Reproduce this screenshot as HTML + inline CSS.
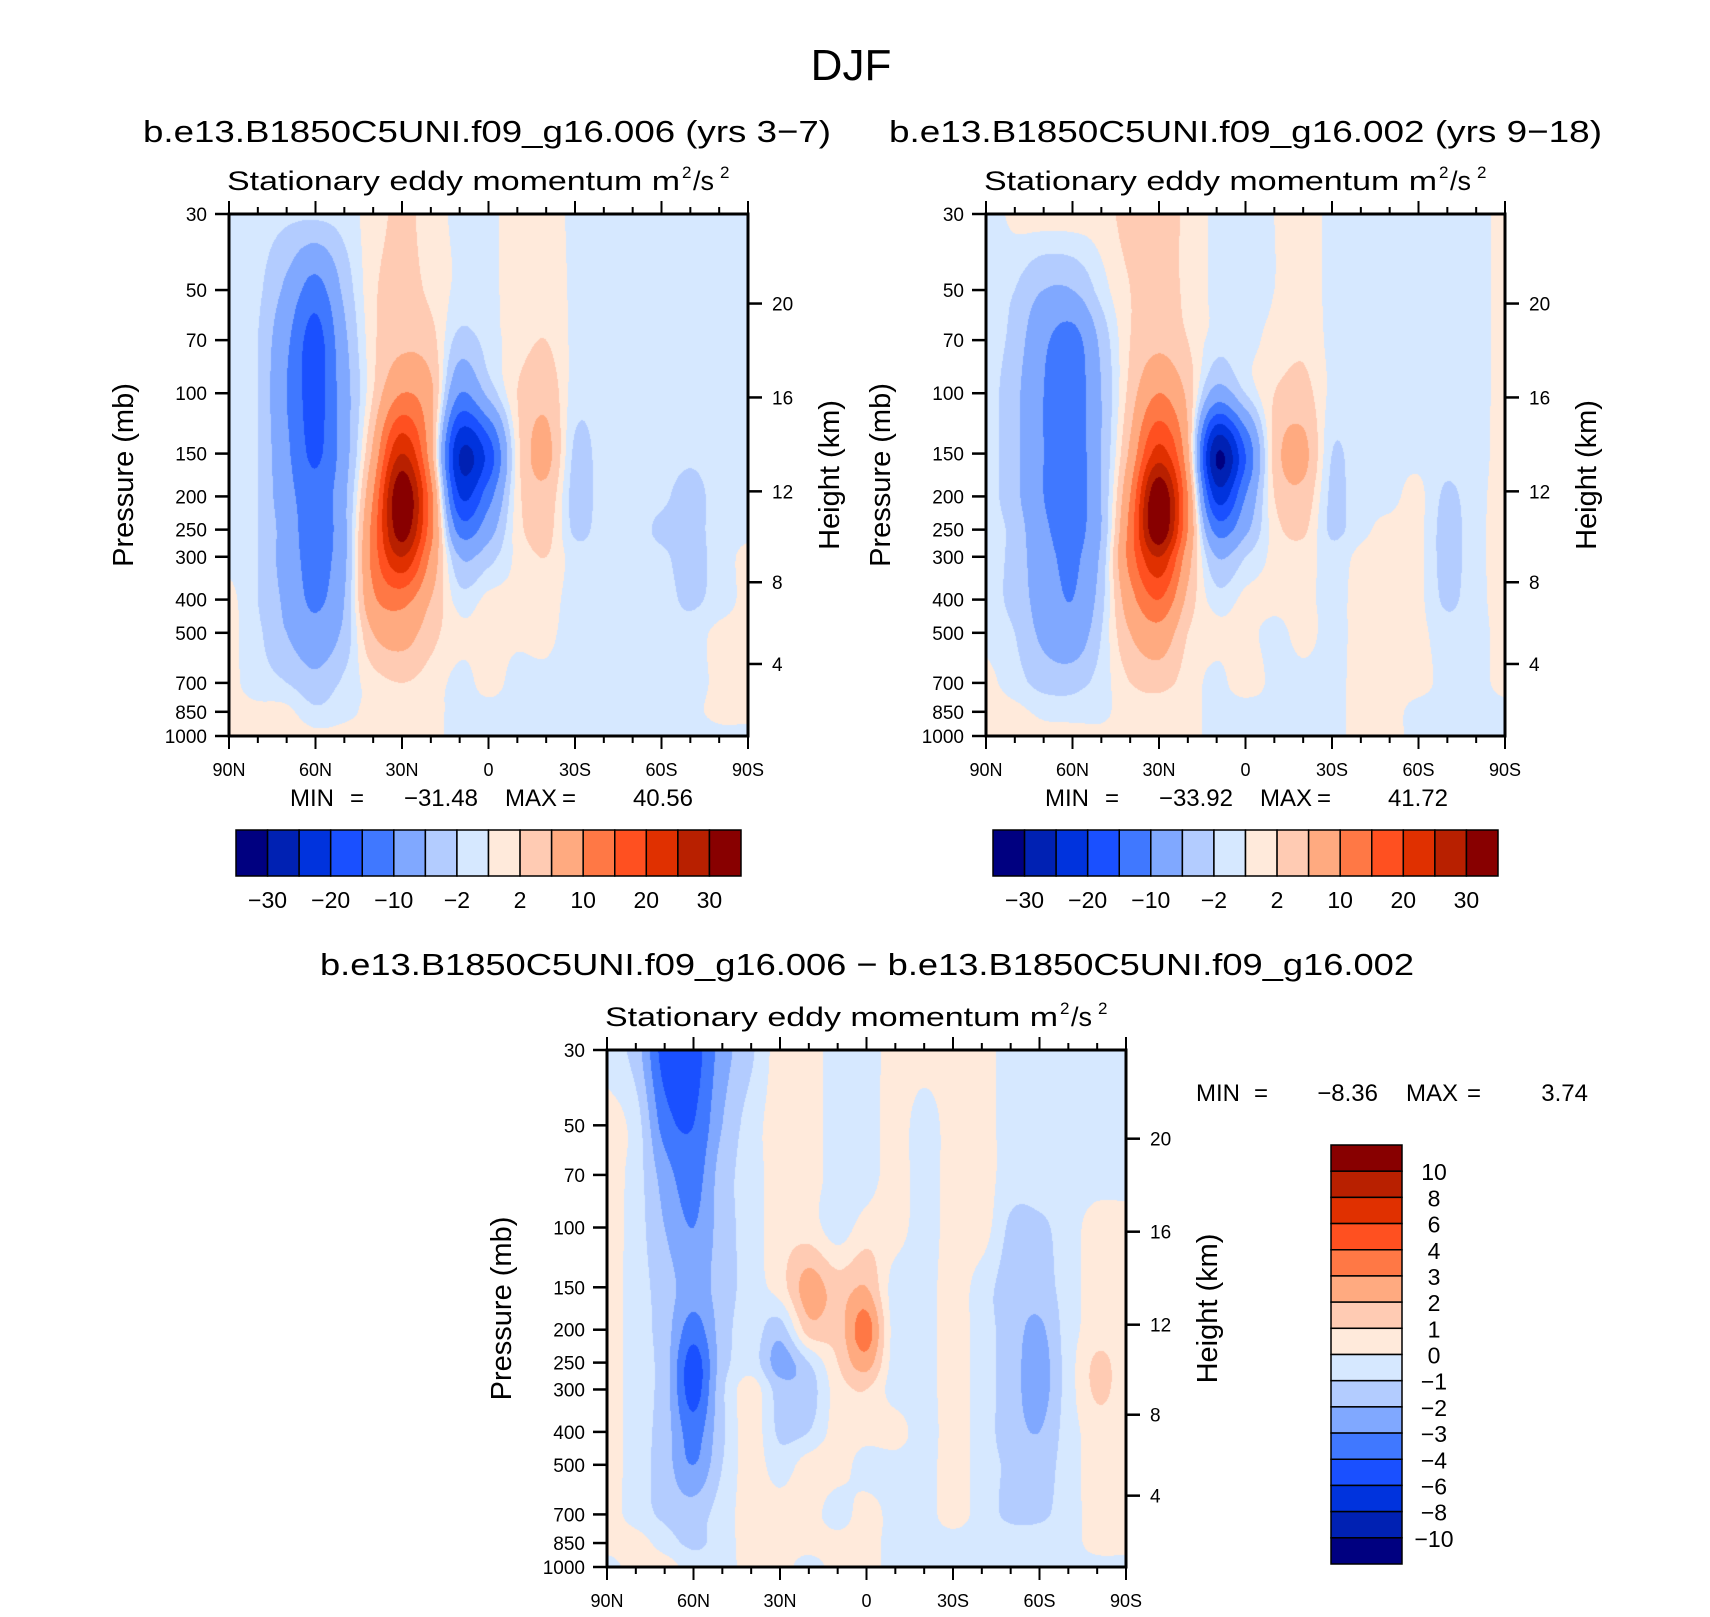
<!DOCTYPE html>
<html>
<head>
<meta charset="utf-8">
<style>
  html,body{margin:0;padding:0;background:#fff;}
  #wrap{position:relative;width:1710px;height:1617px;overflow:hidden;background:#fff;font-family:"Liberation Sans",sans-serif;}
  canvas{position:absolute;}
  svg{position:absolute;left:0;top:0;}
</style>
</head>
<body>
<div id="wrap">
  <canvas id="c1" style="left:229px;top:214px" width="519" height="522"></canvas>
  <canvas id="c2" style="left:986px;top:214px" width="519" height="522"></canvas>
  <canvas id="c3" style="left:607px;top:1050px" width="519" height="517"></canvas>
  <svg id="svg" width="1710" height="1617" xmlns="http://www.w3.org/2000/svg"></svg>
</div>
<script>
// ---------- data ----------
const levels = [30,50,70,100,150,200,250,300,400,500,700,850,1000];
const lats = [90,80,70,60,50,40,30,20,10,0,-10,-20,-30,-40,-50,-60,-70,-80,-90];

// Panel 1 (006): one column per latitude, values top (30 mb) to bottom (1000 mb)
const panel1 = [
  [-1,-1,-1,-1,-1,-1,-1,-0.5,0.5,0.5,0.5,0.5,0.5],
  [-1,-1.5,-2,-2,-2,-2,-2,-2,-2,-1.5,-1,0.5,0.5],
  [-1.5,-6,-9,-10,-9,-8,-7,-7,-6,-5,-2,0.5,1],
  [-1.5,-12,-17,-17,-16,-13,-13,-12,-11,-8,-4,-1.5,0.5],
  [-1,-4,-6,-7,-7,-6,-6,-6,-5,-4,-1.5,-0.5,0.5],
  [1,1.5,1.5,2,6,10,12,12,9,5,1,0.5,0.5],
  [2.5,3,4,10,25,35,33,25,12,7,2,1,1],
  [1,1.5,3,6,7,12,12,9,5,3,1,0.5,0.5],
  [-0.5,-0.5,-3,-10,-25,-20,-12,-5,-1,0.5,-0.5,-0.5,-0.5],
  [-0.5,-0.5,-1,-4,-18,-12,-7,-3,0.5,0.5,0.5,-0.5,-0.5],
  [1,1,1,2,1,1,1,0.5,0.5,0.3,-0.5,-0.5,-0.5],
  [1,1.5,2,4,6,4,3,2,1,0.5,-0.5,-1,-0.5],
  [-0.5,-0.5,-0.5,-1,-2.5,-3,-2.5,-1,-1,-1,-1,-1,-1],
  [-1,-1,-1,-1,-1,-1,-1,-1,-1,-1,-1,-1,-1],
  [-1,-1,-1,-1,-1,-1,-1,-1,-1,-1,-1,-1,-1],
  [-0.5,-1,-1,-1,-1,-1.5,-2.5,-1.5,-1,-1,-1,-1,-1],
  [-0.5,-1,-1,-1,-1.5,-3,-3,-3,-2.5,-1,-1,-0.5,-1],
  [-0.5,-1,-1,-1,-1,-1,-1,-1,-1,0.5,0.5,0.5,-0.5],
  [-0.5,-1,-1,-1,-1,-1,-0.5,0.5,0.5,0.5,0.5,0.5,-0.5]
];
// Panel 2 (002)
const panel2 = [
  [-1,-1,-1,-1,-1,-1,-1,-1,-1,-0.5,0.5,0.5,0.5],
  [0.5,-2,-3,-4,-4,-4,-3,-3,-3,-2,-1,0.5,0.5],
  [1,-5,-9,-10,-10,-10,-9,-8,-7,-6,-3,-0.5,0.5],
  [1,-5,-12,-13,-13,-13,-12,-11,-10,-8,-3,-1,1],
  [1,-1,-4,-5,-5,-5,-5,-4,-3,-2,-1,-0.5,0.5],
  [3,2,2,3,6,10,12,12,8,5,2,1,1],
  [3,3,4,10,22,35,35,25,15,8,3,1,1],
  [1.5,1.5,2,4,6,10,10,7,4,2,1,0.5,0.5],
  [-0.5,-0.5,-1,-7,-30,-22,-12,-5,-1,0.5,-0.5,-0.5,-0.5],
  [-0.5,-0.5,-0.5,-2,-15,-10,-6,-2,0.5,0.5,1,-1,-1],
  [0,0,0.5,2,3,2,1,0.5,0.5,-0.5,-0.5,-0.5,-0.5],
  [1,1,1.5,3,6,4,2.5,1,0.5,0.5,-0.5,-0.5,-0.5],
  [-0.5,-0.5,-0.5,-0.5,-2,-2.5,-2.5,-1,-0.5,-0.5,-0.5,-0.5,-0.5],
  [-0.5,-0.5,-0.5,-0.5,-0.5,-0.5,-0.5,0.5,0.5,0.5,0.5,0.5,0.5],
  [-0.5,-0.5,-0.5,-0.5,-0.5,-0.5,0.5,0.5,0.5,0.5,0.5,0.5,0.5],
  [-0.5,-0.5,-0.5,-0.5,-0.5,0.5,0.5,0.5,0.5,0.5,0.5,-0.5,-0.5],
  [-0.5,-0.5,-0.5,-0.5,-1,-2.5,-3,-3,-2.5,-1,-0.5,-0.5,-0.5],
  [-0.5,-0.5,-0.5,-0.5,-0.5,-0.5,-0.5,-0.5,-0.5,-0.5,-0.5,-0.5,-0.5],
  [0.5,0.5,0.5,0.5,0.5,0.5,0.5,0.5,0.5,0.5,0.5,-0.5,-0.5]
];
// Panel 3 (difference 006 - 002)
const panel3 = [
  [-0.5,0.5,0.5,0.5,0.5,0.5,0.5,0.5,0.5,0.5,0.5,0.5,-0.5],
  [-1.5,-0.5,-0.5,-0.5,-0.5,-0.5,-0.5,-0.5,-0.5,-0.5,-0.5,0.5,0.5],
  [-4.5,-3.5,-2.5,-2,-1.5,-1.5,-1.5,-1.5,-1.5,-1.5,-1.2,-0.5,0.5],
  [-4.5,-4,-3.5,-3,-2.5,-3.5,-4.5,-4.5,-3.5,-3,-1.5,-1.2,-0.5],
  [-2.5,-2,-1.5,-1.5,-1.5,-1.5,-1.5,-1.2,-1.2,-1,-0.5,-0.5,-0.5],
  [-1.2,-0.5,-0.5,-0.5,-0.5,-0.5,-0.5,0.5,0.5,0.5,0.5,0.5,0.5],
  [0.5,0.5,0.5,0.5,0.5,-1.5,-2.5,-1.5,-1.2,-0.5,0.5,0.5,0.5],
  [0.5,0.5,0.5,0.5,2.5,1.5,-1,-1.5,-1,0.5,0.5,0.5,-0.5],
  [-0.5,-0.5,-0.5,-0.5,1.5,1.5,1,0.5,0.5,0.5,-0.5,0.5,0.5],
  [-0.5,-0.5,-0.5,0.5,2,3.5,2.5,1,0.5,-0.5,0.5,0.5,0.5],
  [0.5,0.5,0.5,0.5,-0.5,-0.5,-0.5,-0.5,0.5,-0.5,-0.5,-0.5,-0.5],
  [0.5,-0.5,-0.5,-0.5,-0.5,-0.5,-0.5,-0.5,-0.5,-0.5,-0.5,-0.5,-0.5],
  [0.5,0.5,0.5,0.5,0.5,0.5,0.5,0.5,0.5,0.5,0.5,-0.5,-0.5],
  [0.5,0.5,0.5,0.5,-0.5,-0.5,-0.5,-0.5,-0.5,-0.5,-0.5,-0.5,-0.5],
  [-0.5,-0.5,-0.5,-1.2,-1.5,-1.5,-1.5,-1.5,-1.5,-1.2,-1.2,-0.5,-0.5],
  [-0.5,-0.5,-0.5,-1.2,-1.5,-2.2,-2.5,-2.5,-2,-1.5,-1.2,-0.5,-0.5],
  [-0.5,-0.5,-0.5,-0.5,-0.5,-0.5,-0.5,-0.5,-0.5,-0.5,-0.5,-0.5,-0.5],
  [-0.5,-0.5,-0.5,0.5,0.5,0.5,1.2,1.2,0.5,0.5,0.5,0.5,-0.5],
  [-0.5,-0.5,-0.5,0.5,0.5,0.5,0.5,0.5,0.5,0.5,0.5,0.5,-0.5]
];
const contourLevelsAbs = [-30,-25,-20,-15,-10,-5,-2,0,2,5,10,15,20,25,30];
const contourLevelsDiff = [-10,-8,-6,-4,-3,-2,-1,0,1,2,3,4,6,8,10];
const colors = ["#000080","#0021b3","#0033dd","#1a50ff","#4078ff","#80a8ff","#b3ccff","#d6e8ff",
                "#ffeadb","#ffcbb3","#ffaa80","#ff7845","#ff5020","#e03000","#b82000","#880000"];
const absBarLabels = ["-30","-20","-10","-2","2","10","20","30"];
const diffBarLabels = ["10","8","6","4","3","2","1","0","-1","-2","-3","-4","-6","-8","-10"];
const pressureTicks = [30,50,70,100,150,200,250,300,400,500,700,850,1000];
const heightTicks = [4,8,12,16,20];
const latTicks = [90,60,30,0,-30,-60,-90];
const latTickLabels = ["90N","60N","30N","0","30S","60S","90S"];
const stats1 = ["-31.48","40.56"], stats2 = ["-33.92","41.72"], stats3 = ["-8.36","3.74"];

// ---------- helpers ----------
const LNR = Math.log(1000/30);
function pFrac(p){ return Math.log(p/30)/LNR; }
function zToP(zkm){ const z=zkm*1000; if(z<=11000) return 1013.25*Math.pow(1-2.25577e-5*z,5.25588); return 226.32*Math.exp(-(z-11000)/6341.6); }
function colorIndex(v, lv){ let k=0; for(const t of lv){ if(v>=t) k++; } return k; }
function hexToRgb(h){ return [parseInt(h.substr(1,2),16),parseInt(h.substr(3,2),16),parseInt(h.substr(5,2),16)]; }
const rgb = colors.map(hexToRgb);
const lnLev = levels.map(p=>Math.log(p));

function cr(p0,p1,p2,p3,t){
  const t2=t*t,t3=t2*t;
  return 0.5*((2*p1)+(-p0+p2)*t+(2*p0-5*p1+4*p2-p3)*t2+(-p0+3*p1-3*p2+p3)*t3);
}
function drawField(id, data, lv){
  const cv=document.getElementById(id), ctx=cv.getContext('2d');
  const w=cv.width, h=cv.height, img=ctx.createImageData(w,h);
  const nL=levels.length, nX=lats.length;
  const colv=new Float64Array(nX);
  for(let py=0;py<h;py++){
    const lp=Math.log(30)+(py+0.5)/h*LNR;
    let k=0; while(k<nL-2 && lp>lnLev[k+1]) k++;
    const t=Math.min(1,Math.max(0,(lp-lnLev[k])/(lnLev[k+1]-lnLev[k])));
    const k0=Math.max(0,k-1), k3=Math.min(nL-1,k+2);
    for(let i=0;i<nX;i++){ const d=data[i]; colv[i]=cr(d[k0],d[k],d[k+1],d[k3],t); }
    for(let px=0;px<w;px++){
      const u=(px+0.5)/w*(nX-1);
      let i=Math.min(nX-2,Math.floor(u)); const s=u-i;
      const v=cr(colv[Math.max(0,i-1)],colv[i],colv[i+1],colv[Math.min(nX-1,i+2)],s);
      const c=rgb[colorIndex(v,lv)];
      const o=(py*w+px)*4; img.data[o]=c[0];img.data[o+1]=c[1];img.data[o+2]=c[2];img.data[o+3]=255;
    }
  }
  ctx.putImageData(img,0,0);
}
drawField('c1',panel1,contourLevelsAbs);
drawField('c2',panel2,contourLevelsAbs);
drawField('c3',panel3,contourLevelsDiff);

const NS="http://www.w3.org/2000/svg";
const svg=document.getElementById('svg');
function mk(tag){ const e=document.createElementNS(NS,tag); svg.appendChild(e); return e; }
function line(x1,y1,x2,y2,w,name){
  const e=mk('line');
  e.setAttribute('x1',x1);e.setAttribute('y1',y1);e.setAttribute('x2',x2);e.setAttribute('y2',y2);
  e.setAttribute('stroke','#000');e.setAttribute('stroke-width',w);
  
  
  return e;
}
function text(str,x,y,size,anchor,name){
  const e=mk('text');
  e.setAttribute('x',x);e.setAttribute('y',y);e.setAttribute('font-size',size);
  e.setAttribute('text-anchor',anchor||'middle');
  e.setAttribute('font-family','"Liberation Sans", sans-serif');
  e.setAttribute('fill','#000');
  e.textContent=str.replace(/-/g,'\u2212');
  
  
  return e;
}

function axes(L,T,W,H,tag){
  const R=L+W,B=T+H;
  const fr=mk('rect');
  fr.setAttribute('x',L);fr.setAttribute('y',T);fr.setAttribute('width',W);fr.setAttribute('height',H);
  fr.setAttribute('fill','none');fr.setAttribute('stroke','#000');fr.setAttribute('stroke-width',3);
  
  
  for(let lat=90;lat>=-90;lat-=10){
    const x=L+(90-lat)/180*W, major=(lat%30===0), len=major?13:7;
    line(x,T,x,T-len,2,tag+'-top-tick');
    line(x,B,x,B+len,2,tag+'-bottom-tick');
  }
  latTicks.forEach((lat,i)=>{
    const x=L+(90-lat)/180*W;
    text(latTickLabels[i],x,B+40,18,'middle',tag+'-x-tick-label');
  });
  pressureTicks.forEach(p=>{
    const y=T+pFrac(p)*H;
    line(L,y,L-14,y,2.5,tag+'-y-tick');
    text(String(p),L-22,y+7,19,'end',tag+'-y-tick-label');
  });
  heightTicks.forEach(z=>{
    const y=T+pFrac(zToP(z))*H;
    line(R,y,R+14,y,2.5,tag+'-height-tick');
    text(String(z),R+24,y+7,19,'start',tag+'-height-tick-label');
  });
  const pl=text('Pressure  (mb)',0,0,29,'middle',tag+'-y-axis-title');
  pl.setAttribute('transform','translate('+(L-96)+','+(T+H/2)+') rotate(-90)');
  const hl=text('Height  (km)',0,0,29,'middle',tag+'-height-axis-title');
  hl.setAttribute('transform','translate('+(R+91)+','+(T+H/2)+') rotate(-90)');
  const st=text('Stationary  eddy  momentum  m',L-2,T-24,27,'start',tag+'-subtitle');
  st.setAttribute('textLength',W-66); st.setAttribute('lengthAdjust','spacingAndGlyphs');
  text('2',R-66,T-36,17,'start',tag+'-subtitle-sup');
  text('/s',R-55,T-24,27,'start',tag+'-subtitle-unit');
  text('2',R-28,T-36,17,'start',tag+'-subtitle-sup2');
}
axes(229,214,519,522,'left');
axes(986,214,519,522,'right');
axes(607,1050,519,517,'bottom');

// titles
text('DJF',851,80,44,'middle','figure-title');
const t1=text('b.e13.B1850C5UNI.f09_g16.006 (yrs 3-7)',143,142,31,'start','left-panel-title');
t1.setAttribute('textLength',688);t1.setAttribute('lengthAdjust','spacingAndGlyphs');
const t2=text('b.e13.B1850C5UNI.f09_g16.002 (yrs 9-18)',889,142,31,'start','right-panel-title');
t2.setAttribute('textLength',713);t2.setAttribute('lengthAdjust','spacingAndGlyphs');
const t3=text('b.e13.B1850C5UNI.f09_g16.006 - b.e13.B1850C5UNI.f09_g16.002',320,975,31,'start','difference-panel-title');
t3.setAttribute('textLength',1094);t3.setAttribute('lengthAdjust','spacingAndGlyphs');

// min/max
function stats(x,y,vals,name){
  text('MIN',x,y,24,'start',name+'-min-label');
  text('=',x+60,y,24,'start',name+'-min-eq');
  text(vals[0],x+188,y,24,'end',name+'-min-value');
  text('MAX',x+215,y,24,'start',name+'-max-label');
  text('=',x+272,y,24,'start',name+'-max-eq');
  text(vals[1],x+403,y,24,'end',name+'-max-value');
}
stats(290,806,stats1,'left');
stats(1045,806,stats2,'right');
text('MIN',1196,1101,24,'start','bottom-min-label');
text('=',1254,1101,24,'start','bottom-min-eq');
text(stats3[0],1378,1101,24,'end','bottom-min-value');
text('MAX',1406,1101,24,'start','bottom-max-label');
text('=',1467,1101,24,'start','bottom-max-eq');
text(stats3[1],1588,1101,24,'end','bottom-max-value');

// horizontal colorbars
function hbar(L,T,W,H,name){
  const bw=W/colors.length;
  colors.forEach((c,i)=>{
    const r=mk('rect');
    r.setAttribute('x',L+i*bw);r.setAttribute('y',T);r.setAttribute('width',bw);r.setAttribute('height',H);
    r.setAttribute('fill',c);r.setAttribute('stroke','#000');r.setAttribute('stroke-width',1.5);
    
    
  });
  absBarLabels.forEach((s,j)=>{
    const x=L+(1+2*j)*bw;
    text(s,x,T+H+32,23,'middle',name+'-colorbar-label');
  });
}
hbar(236,830,505,46,'left');
hbar(993,830,505,46,'right');

// vertical colorbar
(function(){
  const L=1331,T=1145,W=71,H=419,bh=H/colors.length;
  for(let i=0;i<colors.length;i++){
    const r=mk('rect');
    r.setAttribute('x',L);r.setAttribute('y',T+i*bh);r.setAttribute('width',W);r.setAttribute('height',bh);
    r.setAttribute('fill',colors[colors.length-1-i]);r.setAttribute('stroke','#000');r.setAttribute('stroke-width',1.5);
    
    
  }
  diffBarLabels.forEach((s,j)=>{
    text(s,1434,T+(j+1)*bh+9,23,'middle','bottom-colorbar-label');
  });
})();
</script>
</body>
</html>
